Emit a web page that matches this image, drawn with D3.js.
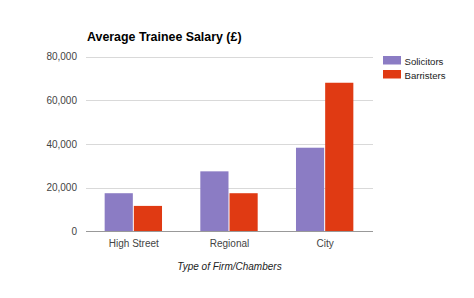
<!DOCTYPE html>
<html lang="en">
<head>
<meta charset="utf-8">
<title>Average Trainee Salary</title>
<style>
body { margin: 0; background: #fff; font-family: Arial, "Liberation Sans", sans-serif; }
.grid line { stroke: #d9d9d9; }
.tick text { fill: #444; font-size: 10px; }
</style>
</head>
<body>
<div id="chart"></div>
<script src="https://cdn.jsdelivr.net/npm/d3@7"></script>
<script>

var categories = ["High Street", "Regional", "City"];
var seriesNames = ["Solicitors", "Barristers"];
var solicitors = [17500, 27500, 38300];
var barristers = [11700, 17500, 68000];
var yTicks = [0, 20000, 40000, 60000, 80000];
var colors = ["#8b7cc4", "#e03a13"];

var width = 474, height = 298;
var plotLeft = 86, plotRight = 373, plotTop = 56.5, plotBottom = 231.5;

var svg = d3.select("#chart").append("svg")
  .attr("width", width).attr("height", height);

var x = d3.scaleBand().domain(categories).range([plotLeft, plotRight])
  .paddingInner(0.39).paddingOuter(0.195);
var x1 = d3.scaleBand().domain(seriesNames).range([0, x.bandwidth()]);
var y = d3.scaleLinear().domain([0, 80000]).range([plotBottom, plotTop]);

// gridlines
svg.append("g").attr("class", "grid")
  .selectAll("line").data(yTicks.slice(1)).enter().append("line")
  .attr("x1", plotLeft).attr("x2", plotRight)
  .attr("y1", function(d) { return Math.round(y(d)) + 0.5; })
  .attr("y2", function(d) { return Math.round(y(d)) + 0.5; });

// y axis labels
var yAxis = d3.axisLeft(y).tickValues(yTicks).tickSize(0).tickPadding(9)
  .tickFormat(d3.format(","));
svg.append("g").attr("transform", "translate(" + plotLeft + ",0)").call(yAxis)
  .call(function(g) { g.select(".domain").remove(); });

// bars
var data = categories.map(function(c, i) {
  return { cat: c, vals: [solicitors[i], barristers[i]] };
});
var groups = svg.selectAll(".grp").data(data).enter().append("g")
  .attr("transform", function(d) { return "translate(" + x(d.cat) + ",0)"; });
groups.selectAll("rect").data(function(d) { return d.vals; }).enter().append("rect")
  .attr("x", function(d, i) { return x1(seriesNames[i]); })
  .attr("width", x1.bandwidth() - 1)
  .attr("y", function(d) { return y(d); })
  .attr("height", function(d) { return plotBottom - y(d); })
  .attr("fill", function(d, i) { return colors[i]; });

// baseline
svg.append("line").attr("x1", plotLeft).attr("x2", plotRight)
  .attr("y1", plotBottom).attr("y2", plotBottom)
  .attr("stroke", "#999").attr("stroke-width", 1.2);

// x axis labels
var xAxis = d3.axisBottom(x).tickSize(0).tickPadding(8);
svg.append("g").attr("transform", "translate(0," + plotBottom + ")").call(xAxis)
  .call(function(g) { g.select(".domain").remove(); })
  .selectAll("text").attr("fill", "#222");

// title
svg.append("text").attr("x", 87).attr("y", 41)
  .attr("font-size", 12.4).attr("font-weight", "bold").attr("fill", "#000")
  .text("Average Trainee Salary (\u00a3)");

// axis title
svg.append("text").attr("x", (plotLeft + plotRight) / 2).attr("y", 270)
  .attr("text-anchor", "middle").attr("font-size", 10)
  .attr("font-style", "italic").attr("fill", "#222")
  .text("Type of Firm/Chambers");

// legend
var legend = svg.selectAll(".legend").data(seriesNames).enter().append("g")
  .attr("transform", function(d, i) { return "translate(383," + (56 + i * 14) + ")"; });
legend.append("rect").attr("width", 18).attr("height", 8.5)
  .attr("fill", function(d, i) { return colors[i]; });
legend.append("text").attr("x", 21.5).attr("y", 8.5)
  .attr("font-size", 9.6).attr("fill", "#222")
  .text(function(d) { return d; });

</script>
</body>
</html>
